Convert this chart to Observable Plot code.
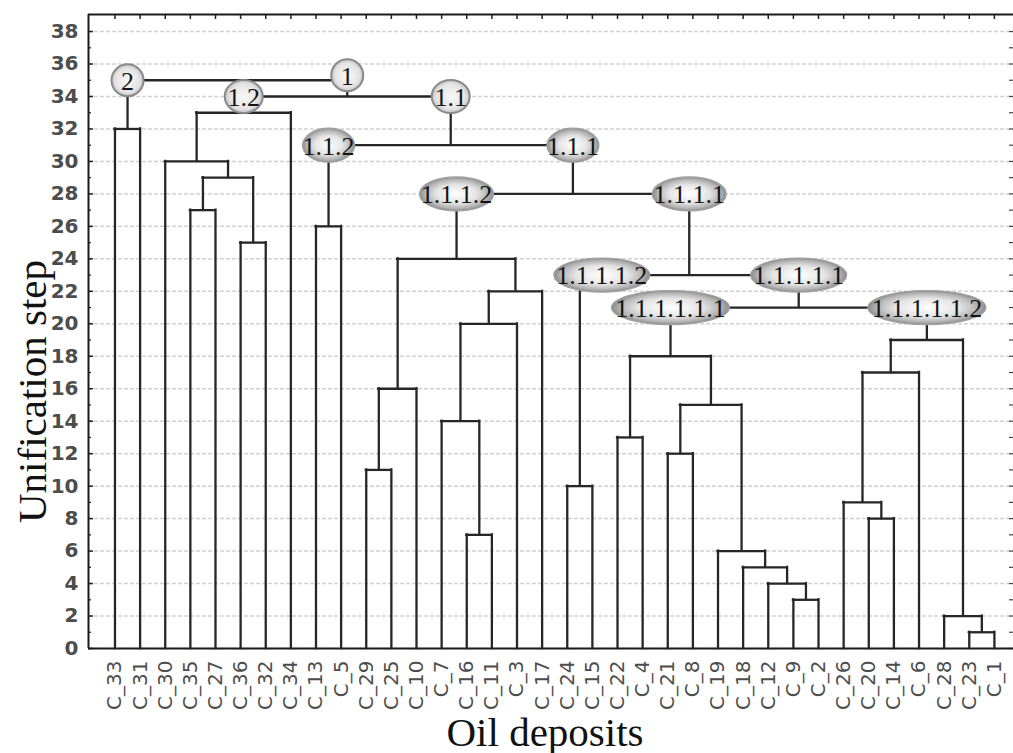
<!DOCTYPE html>
<html><head><meta charset="utf-8">
<script src="https://cdn.jsdelivr.net/npm/d3@7"></script>
<script src="https://cdn.jsdelivr.net/npm/@observablehq/plot@0.6"></script>
<style>body{margin:0;background:#fff;} #chart{width:1013px;height:753px;}</style>
</head><body>
<svg width="0" height="0" style="position:absolute">
 <defs>
  <radialGradient id="gE" cx="50%" cy="50%" r="50%">
    <stop offset="0%" stop-color="#ffffff"/>
    <stop offset="55%" stop-color="#e4e4e4"/>
    <stop offset="85%" stop-color="#b4b4b4"/>
    <stop offset="100%" stop-color="#8c8c8c"/>
  </radialGradient>
  <radialGradient id="gC" cx="50%" cy="50%" r="50%">
    <stop offset="0%" stop-color="#f8f8f8"/>
    <stop offset="75%" stop-color="#e4e4e4"/>
    <stop offset="100%" stop-color="#c4c4c4"/>
  </radialGradient>
 </defs>
</svg>
<div id="chart"></div>
<script>
// Leaves in dendrogram order (left to right)
const leaves = ["C_33","C_31","C_30","C_35","C_27","C_36","C_32","C_34","C_13","C_5",
  "C_29","C_25","C_10","C_7","C_16","C_11","C_3","C_17","C_24","C_15",
  "C_22","C_4","C_21","C_8","C_19","C_18","C_12","C_9","C_2","C_26",
  "C_20","C_14","C_6","C_28","C_23","C_1"];
// Merges: step number (= unification step height), left member, right member
// (members are leaf names or earlier step numbers)
const mergeStep  = [1,2,3,4,5,6,7,8,9,10,11,12,13,14,15,16,17,18,19,20,21,22,23,24,25,26,27,28,29,30,31,32,33,34,35];
const mergeLeft  = ["C_23","C_28","C_9","C_12","C_18","C_19","C_16","C_20","C_26","C_24","C_29","C_21","C_22","C_7",12,11,9,13,17,14,18,20,10,16,"C_36","C_13","C_35",24,27,"C_30",26,"C_33",30,33,32];
const mergeRight = ["C_1",1,"C_2",3,4,5,"C_11","C_14",8,"C_15","C_25","C_8","C_4",7,6,"C_10","C_6",15,2,"C_3",19,"C_17",21,22,"C_32","C_5","C_27",23,25,29,28,"C_31","C_34",31,34];
// Cluster labels and the merge step they name
const labelText = ["2","1","1.2","1.1","1.1.2","1.1.1","1.1.1.2","1.1.1.1","1.1.1.1.2","1.1.1.1.1","1.1.1.1.1.1","1.1.1.1.1.2"];
const labelStep = [32,34,33,31,26,28,24,23,10,21,18,19];
// Axis ticks
const yTicks = [0,2,4,6,8,10,12,14,16,18,20,22,24,26,28,30,32,34,36,38];
const yMinor = [1,3,5,7,9,11,13,15,17,19,21,23,25,27,29,31,33,35,37];

// --- build dendrogram geometry ---
const nodes = {};
const nodeOf = ref => typeof ref === "number" ? nodes[ref] : {x: leaves.indexOf(ref), h: 0};
const parentH = {};
const horiz = [], vert = [];
mergeStep.forEach((s, i) => {
  const a = nodeOf(mergeLeft[i]), b = nodeOf(mergeRight[i]);
  nodes[s] = {x: (a.x + b.x) / 2, h: s};
  if (typeof mergeLeft[i] === "number") parentH[mergeLeft[i]] = s;
  if (typeof mergeRight[i] === "number") parentH[mergeRight[i]] = s;
  horiz.push({x1: a.x, x2: b.x, y: s});
  vert.push({x: a.x, y1: a.h, y2: s});
  vert.push({x: b.x, y1: b.h, y2: s});
});
const labels = labelText.map((t, i) => ({text: t, x: nodes[labelStep[i]].x, y: parentH[labelStep[i]]}));

function ellipseSymbol(rx, ry) {
  const k = 0.5522847498;
  return {draw(ctx) {
    ctx.moveTo(rx, 0);
    ctx.bezierCurveTo(rx, ry * k, rx * k, ry, 0, ry);
    ctx.bezierCurveTo(-rx * k, ry, -rx, ry * k, -rx, 0);
    ctx.bezierCurveTo(-rx, -ry * k, -rx * k, -ry, 0, -ry);
    ctx.bezierCurveTo(rx * k, -ry, rx, -ry * k, rx, 0);
    ctx.closePath();
  }};
}
const sizeByLen = {1: [16, 16], 3: [19, 16.5], 5: [26, 17], 7: [37, 17], 9: [48, 17], 11: [59, 17]};
const nudge = {"1.1.1.1.2": [22, 0], "1": [0, -5]};

const W = 1013, H = 753, ML = 88, MR = 0, MT = 14, MB = 105;
const xDomain = [-1.054, 35.76], yDomain = [0, 39.05];
const leafIdx = leaves.map((d, i) => i);
const lineColor = "#262626";
const serif = "Liberation Serif, Times New Roman, serif";

const labelMarks = labels.flatMap(l => {
  const [rx, ry] = sizeByLen[l.text.length];
  const [dx, dy] = nudge[l.text] || [0, 0];
  const small = l.text.length <= 3;
  return [
    Plot.dot([l], {x: "x", y: "y", dx, dy, r: 10, symbol: ellipseSymbol(rx, ry),
      fill: small ? "url(#gC)" : "url(#gE)", stroke: small ? "#8a8a8a" : "#a0a0a0", strokeWidth: small ? 2 : 1.2}),
    Plot.text([l], {x: "x", y: "y", text: "text", dx, dy: dy + 1, fontSize: 26,
      fontFamily: serif, fill: "#141414"})
  ];
});

const chart = Plot.plot({
  width: W, height: H,
  marginLeft: ML, marginRight: MR, marginTop: MT, marginBottom: MB,
  style: {background: "#fff", overflow: "visible"},
  x: {type: "linear", domain: xDomain, axis: null},
  y: {type: "linear", domain: yDomain, axis: null},
  marks: [
    Plot.gridY(yTicks, {stroke: "#d2d2d2", strokeOpacity: 1, strokeWidth: 1.5, strokeDasharray: "4,2"}),
    // inward ticks
    Plot.tickX(leafIdx, {x: d => d, insetBottom: (H - MT - MB) - 5, stroke: "#222", strokeWidth: 1.5}),
    Plot.tickY(yTicks, {y: d => d, insetRight: (W - ML - MR) - 5, stroke: "#222", strokeWidth: 1.5}),
    Plot.tickY(yMinor, {y: d => d, insetRight: (W - ML - MR) - 3, stroke: "#222", strokeWidth: 1.2}),
    Plot.tickY(yTicks.concat(yMinor), {y: d => d, insetLeft: (W - ML - MR) - 4, stroke: "#444", strokeWidth: 1.2}),
    // frame (left, bottom, top)
    Plot.ruleX([xDomain[0]], {stroke: "#1a1a1a", strokeWidth: 2}),
    Plot.ruleY([yDomain[0], yDomain[1]], {stroke: "#1a1a1a", strokeWidth: 2}),
    // dendrogram
    Plot.ruleX(vert, {x: "x", y1: "y1", y2: "y2", stroke: lineColor, strokeWidth: 2.3, strokeLinecap: "square"}),
    Plot.ruleY(horiz, {y: "y", x1: "x1", x2: "x2", stroke: lineColor, strokeWidth: 2.3, strokeLinecap: "square"}),
    ...labelMarks,
    // axes labels
    Plot.axisY(yTicks, {anchor: "left", tickSize: 0, tickPadding: 10, fontSize: 20,
      fontFamily: "DejaVu Sans, sans-serif", fontWeight: "bold", fill: "#4d4d4d", label: null}),
    Plot.axisX(leafIdx, {anchor: "bottom", tickSize: 0, tickPadding: 12, tickRotate: -90,
      tickFormat: i => leaves[i], fontSize: 20, fontFamily: "DejaVu Sans, sans-serif", fill: "#4d4d4d", label: null}),
    Plot.text(["Oil deposits"], {frameAnchor: "bottom", text: d => d, textAnchor: "middle", dx: -6, dy: 97, fontSize: 41,
      fontFamily: serif, fill: "#111"}),
    Plot.text(["Unification step"], {frameAnchor: "left", text: d => d, textAnchor: "middle", rotate: -90, dx: -56, dy: 60, fontSize: 41,
      fontFamily: serif, fill: "#111"})
  ]
});
document.getElementById("chart").appendChild(chart);
</script>
</body></html>
